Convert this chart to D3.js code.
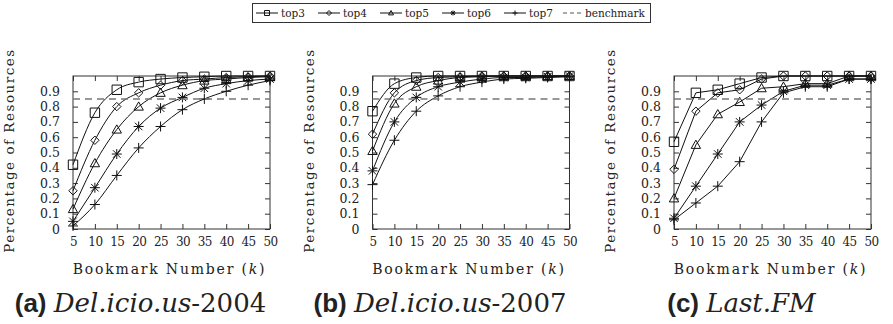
<!DOCTYPE html>
<html>
<head>
<meta charset="utf-8">
<script src="https://cdn.jsdelivr.net/npm/d3@7"></script>
<style>
body { margin: 0; background: #fff; }
</style>
</head>
<body>
<script>
const ks = [5, 10, 15, 20, 25, 30, 35, 40, 45, 50];
const seriesNames = ['top3', 'top4', 'top5', 'top6', 'top7'];
const yTicks = [0, 0.1, 0.2, 0.3, 0.4, 0.5, 0.6, 0.7, 0.8, 0.9];
const benchmark = 0.85;

// one row per series: top3 .. top7
const del2004 = [
    [0.42, 0.76, 0.91, 0.96, 0.98, 0.99, 0.995, 1.0, 1.0, 1.0],
    [0.25, 0.58, 0.80, 0.89, 0.94, 0.97, 0.98, 0.99, 0.995, 1.0],
    [0.13, 0.43, 0.65, 0.80, 0.89, 0.94, 0.97, 0.98, 0.99, 0.995],
    [0.05, 0.27, 0.49, 0.67, 0.79, 0.86, 0.92, 0.95, 0.97, 0.98],
    [0.02, 0.16, 0.35, 0.53, 0.67, 0.78, 0.85, 0.90, 0.94, 0.97]
];
const del2007 = [
    [0.77, 0.95, 0.99, 1.0, 1.0, 1.0, 1.0, 1.0, 1.0, 1.0],
    [0.62, 0.89, 0.97, 0.99, 0.995, 1.0, 1.0, 1.0, 1.0, 1.0],
    [0.51, 0.82, 0.93, 0.97, 0.99, 0.995, 1.0, 1.0, 1.0, 1.0],
    [0.38, 0.70, 0.86, 0.93, 0.96, 0.98, 0.99, 0.99, 0.995, 1.0],
    [0.29, 0.58, 0.77, 0.87, 0.93, 0.96, 0.98, 0.985, 0.99, 0.995]
];
const lastfm = [
    [0.57, 0.89, 0.91, 0.95, 0.99, 1.0, 1.0, 1.0, 1.0, 1.0],
    [0.39, 0.77, 0.89, 0.91, 0.98, 1.0, 1.0, 1.0, 1.0, 1.0],
    [0.20, 0.55, 0.75, 0.83, 0.92, 0.93, 0.95, 0.95, 1.0, 1.0],
    [0.07, 0.28, 0.49, 0.70, 0.81, 0.90, 0.94, 0.94, 0.98, 0.98],
    [0.06, 0.17, 0.28, 0.44, 0.70, 0.89, 0.93, 0.93, 0.98, 0.98]
];

const panels = [
    {data: del2004, left: 73, letter: '(a)', name: 'Del.icio.us', suffix: '-2004', curve: d3.curveMonotoneX},
    {data: del2007, left: 372.5, letter: '(b)', name: 'Del.icio.us', suffix: '-2007', curve: d3.curveMonotoneX},
    {data: lastfm, left: 674, letter: '(c)', name: 'Last.FM', suffix: '', curve: d3.curveLinear}
];

const serif = '"DejaVu Serif", serif';
const width = 893;
const height = 324;
const plotW = 197;
const plotTop = 76;
const plotBottom = 229;

const svg = d3.select('body').append('svg')
    .attr('width', width)
    .attr('height', height);

// marker shapes, centred on 0,0
const markers = [
    r => `M${-r},${-r}H${r}V${r}H${-r}Z`,
    r => `M0,${-r}L${r},0L0,${r}L${-r},0Z`,
    r => `M0,${-r}L${r},${r * 0.75}L${-r},${r * 0.75}Z`,
    r => `M${-r},0H${r}M0,${-r}V${r}M${-r * 0.75},${-r * 0.75}L${r * 0.75},${r * 0.75}M${-r * 0.75},${r * 0.75}L${r * 0.75},${-r * 0.75}`,
    r => `M${-r},0H${r}M0,${-r}V${r}`
];
const markerSize = [4.7, 4.2, 4.7, 5, 5];

// legend
const legend = svg.append('g');
legend.append('rect')
    .attr('x', 252.5).attr('y', 3.5)
    .attr('width', 398).attr('height', 19)
    .attr('fill', 'none').attr('stroke', '#333');

seriesNames.forEach((name, i) => {
    const x0 = 256 + i * 62;
    legend.append('line')
        .attr('x1', x0).attr('x2', x0 + 22)
        .attr('y1', 13).attr('y2', 13)
        .attr('stroke', '#111');
    legend.append('path')
        .attr('transform', `translate(${x0 + 11},13)`)
        .attr('d', markers[i](2.5))
        .attr('fill', 'none').attr('stroke', '#111');
    legend.append('text')
        .attr('x', x0 + 25).attr('y', 17)
        .attr('font-size', 10.5)
        .text(name);
});
legend.append('line')
    .attr('x1', 563).attr('x2', 582)
    .attr('y1', 13).attr('y2', 13)
    .attr('stroke', '#555').attr('stroke-dasharray', '4,3');
legend.append('text')
    .attr('x', 585).attr('y', 17)
    .attr('font-size', 10.5)
    .text('benchmark');

panels.forEach(p => {
    const x = d3.scaleLinear().domain([5, 50]).range([p.left, p.left + plotW]);
    const y = d3.scaleLinear().domain([0, 1]).range([plotBottom, plotTop]);
    const g = svg.append('g');

    // ticks on all four sides, pointing inward
    g.append('g')
        .attr('transform', `translate(0,${plotBottom})`)
        .call(d3.axisBottom(x).tickValues(ks).tickSize(-5).tickPadding(8))
        .call(a => a.select('.domain').remove())
        .call(a => a.selectAll('text').attr('font-size', 12).attr('letter-spacing', -0.6));
    g.append('g')
        .attr('transform', `translate(0,${plotTop})`)
        .call(d3.axisTop(x).tickValues(ks).tickSize(-5).tickFormat(''))
        .call(a => a.select('.domain').remove());
    g.append('g')
        .attr('transform', `translate(${p.left},0)`)
        .call(d3.axisLeft(y).tickValues(yTicks).tickSize(-5).tickPadding(13)
            .tickFormat(d => d === 0 ? '0' : d3.format('.1f')(d)))
        .call(a => a.select('.domain').remove())
        .call(a => a.selectAll('text').attr('font-size', 12.5));
    g.append('g')
        .attr('transform', `translate(${p.left + plotW},0)`)
        .call(d3.axisRight(y).tickValues(yTicks).tickSize(-5).tickFormat(''))
        .call(a => a.select('.domain').remove());
    g.selectAll('.tick line').attr('stroke', '#333');

    g.append('rect')
        .attr('x', p.left).attr('y', plotTop)
        .attr('width', plotW).attr('height', plotBottom - plotTop)
        .attr('fill', 'none').attr('stroke', '#333');

    const line = d3.line()
        .x((d, i) => x(ks[i]))
        .y(d => y(d))
        .curve(p.curve);

    p.data.forEach((vals, si) => {
        g.append('path')
            .attr('d', line(vals))
            .attr('fill', 'none')
            .attr('stroke', '#111')
            .attr('stroke-width', 1);
        g.selectAll(null)
            .data(vals)
            .enter()
            .append('path')
            .attr('transform', (d, i) => `translate(${x(ks[i])},${y(d)})`)
            .attr('d', markers[si](markerSize[si]))
            .attr('fill', 'none')
            .attr('stroke', '#111')
            .attr('stroke-width', 1);
    });

    g.append('line')
        .attr('x1', p.left).attr('x2', p.left + plotW)
        .attr('y1', y(benchmark)).attr('y2', y(benchmark))
        .attr('stroke', '#777')
        .attr('stroke-width', 1.5)
        .attr('stroke-dasharray', '7,5');

    // axis titles
    g.append('text')
        .attr('transform', `translate(${p.left - 59},${(plotTop + plotBottom) / 2 - 2}) rotate(-90)`)
        .attr('text-anchor', 'middle')
        .attr('font-size', 13.5)
        .attr('letter-spacing', 1.5)
        .text('Percentage of Resources');
    const xt = g.append('text')
        .attr('x', p.left + plotW / 2 - 2).attr('y', 274)
        .attr('text-anchor', 'middle')
        .attr('font-size', 14)
        .attr('letter-spacing', 1.8);
    xt.append('tspan').text('Bookmark Number (');
    xt.append('tspan').attr('font-style', 'italic').text('k');
    xt.append('tspan').text(')');

    // caption
    const cap = g.append('text')
        .attr('x', p.left + plotW / 2 - 31).attr('y', 312)
        .attr('text-anchor', 'middle')
        .attr('font-size', 26);
    cap.append('tspan')
        .attr('class', 'sans')
        .attr('font-weight', 'bold')
        .text(p.letter + ' ');
    cap.append('tspan').attr('font-style', 'italic').text(p.name);
    cap.append('tspan').text(p.suffix);
});

svg.selectAll('text, tspan').style('font-family', serif).style('fill', '#222');
svg.selectAll('.sans').style('font-family', '"Liberation Sans", Arial, sans-serif');
</script>
</body>
</html>
